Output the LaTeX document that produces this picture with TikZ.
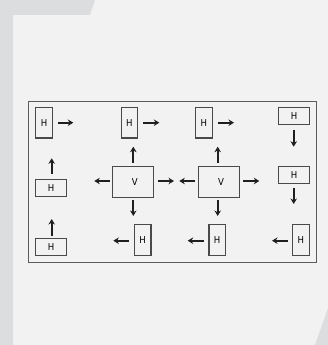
\documentclass[tikz,border=0pt]{standalone}
\usepackage{fontspec}
\setmainfont{DejaVu Sans Condensed}
\usetikzlibrary{arrows.meta}
\definecolor{bgl}{HTML}{F2F2F2}
\definecolor{bgd}{HTML}{DCDDDF}
\definecolor{boxc}{HTML}{4A4A4A}
\begin{document}
\begin{tikzpicture}[x=1pt,y=-1pt,
  hbox/.style={draw=boxc,line width=1.1pt,fill=bgl,inner sep=0pt,font=\fontsize{9.5}{10}\selectfont},
  tallbox/.style={hbox,minimum width=16.5pt,minimum height=30.5pt},
  widebox/.style={hbox,minimum width=30.5pt,minimum height=17pt},
  vbox/.style={hbox,minimum width=41pt,minimum height=30.5pt},
  arr/.style={line width=1.9pt,color=black!88,-{Stealth[length=5.5pt,width=6.5pt,inset=1.8pt]}}]
\useasboundingbox (0,0) rectangle (328,345);
\fill[bgl] (0,0) rectangle (328,345);
\fill[bgd] (0,0) -- (95,0) -- (90,15) -- (13,15) -- (13,345) -- (0,345) -- cycle;
\fill[bgd] (328,308) -- (315,345) -- (328,345) -- cycle;
\node[draw=boxc!90,line width=1pt,minimum width=288pt,minimum height=161.3pt,inner sep=0pt] (frame) at (172.3,182.3) {};
% row 1
\node[tallbox] (h1) at (44,122.7) {H};
\node[tallbox] (h2) at (129.3,122.7) {H};
\node[tallbox] (h3) at (203.8,122.7) {H};
\node[widebox] (h4) at (294,116) {H};
% row 2
\node[widebox] (h5) at (51,187.7) {H};
\node[vbox] (v1) at (132.8,182) {\hspace*{4pt}V};
\node[vbox] (v2) at (219,182) {\hspace*{4pt}V};
\node[widebox] (h6) at (294,175) {H};
% row 3
\node[widebox] (h7) at (51,246.7) {H};
\node[tallbox] (h8) at (142.7,239.8) {H};
\node[tallbox] (h9) at (217.2,239.8) {H};
\node[tallbox] (h10) at (300.8,239.8) {H};
% arrow ends
\coordinate (a1) at (73.3,122.7);
\coordinate (a2) at (159.3,122.7);
\coordinate (a3) at (234,122.7);
\coordinate (a4) at (293.7,146.7);
\coordinate (a5) at (51.7,158.3);
\coordinate (a6) at (94.3,181);
\coordinate (a7) at (133.3,146.7);
\coordinate (a8) at (174,181);
\coordinate (a9) at (179.3,181);
\coordinate (a10) at (217.7,146.7);
\coordinate (a11) at (259.3,181);
\coordinate (a12) at (293.7,204);
\coordinate (a13) at (133.3,216);
\coordinate (a14) at (217.7,216);
\coordinate (a15) at (51.7,219);
\coordinate (a16) at (113.3,240.7);
\coordinate (a17) at (187.7,240.7);
\coordinate (a18) at (272,240.7);
\draw[arr] (h1.east|-a1) ++(5,0) -- (a1);
\draw[arr] (h2.east|-a2) ++(5,0) -- (a2);
\draw[arr] (h3.east|-a3) ++(5,0) -- (a3);
\draw[arr] (h4.south-|a4) ++(0,5) -- (a4);
\draw[arr] (h5.north-|a5) ++(0,-5) -- (a5);
\draw[arr] (v1.west|-a6) ++(-1.3,0) -- (a6);
\draw[arr] (v1.north-|a7) ++(0,-3.3) -- (a7);
\draw[arr] (v1.east|-a8) ++(4,0) -- (a8);
\draw[arr] (v2.west|-a9) ++(-3,0) -- (a9);
\draw[arr] (v2.north-|a10) ++(0,-3.3) -- (a10);
\draw[arr] (v2.east|-a11) ++(3.3,0) -- (a11);
\draw[arr] (h6.south-|a12) ++(0,4) -- (a12);
\draw[arr] (v1.south-|a13) ++(0,2) -- (a13);
\draw[arr] (v2.south-|a14) ++(0,2) -- (a14);
\draw[arr] (h7.north-|a15) ++(0,-2) -- (a15);
\draw[arr] (h8.west|-a16) ++(-5,0) -- (a16);
\draw[arr] (h9.west|-a17) ++(-4.7,0) -- (a17);
\draw[arr] (h10.west|-a18) ++(-3.6,0) -- (a18);
\end{tikzpicture}
\end{document}
